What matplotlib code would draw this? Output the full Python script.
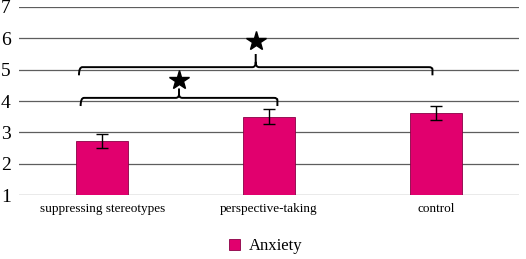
import matplotlib

matplotlib.use("Agg")
import matplotlib.pyplot as plt
from matplotlib.path import Path
from matplotlib.patches import PathPatch

# data
categories = ["suppressing stereotypes", "perspective-taking", "control"]
anxiety = [2.73, 3.50, 3.62]
errors = [0.23, 0.24, 0.22]
y_ticks = [1, 2, 3, 4, 5, 6, 7]

# significance brackets: (x start, x end, y level, star x, tip height, star y)
brackets = [
    (-0.13, 1.05, 4.10, 0.46, 0.30, 4.66),
    (-0.14, 1.98, 5.08, 0.92, 0.42, 5.92),
]

BAR_COLOR = "#E1006E"
SERIF = "Liberation Serif"


def draw_bracket(ax, x0, x1, y, xm, tip, star_y):
    drop = 0.26
    rx = 0.02
    ry = 0.07
    verts = [
        (x0, y - drop), (x0, y), (x0 + rx, y),
        (xm - rx, y), (xm, y), (xm, y + tip * 0.4), (xm, y + tip),
        (xm, y + tip * 0.4), (xm, y), (xm + rx, y),
        (x1 - rx, y), (x1, y), (x1, y - ry), (x1, y - drop),
    ]
    codes = [
        Path.MOVETO, Path.CURVE3, Path.CURVE3,
        Path.LINETO, Path.CURVE3, Path.CURVE3, Path.LINETO,
        Path.MOVETO, Path.CURVE3, Path.CURVE3,
        Path.LINETO, Path.CURVE3, Path.CURVE3, Path.LINETO,
    ]
    ax.add_patch(PathPatch(Path(verts, codes), fill=False, lw=1.4, color="black", zorder=5))
    ax.plot([xm], [star_y], marker="*", markersize=15, color="black", zorder=6, clip_on=False)


fig = plt.figure(figsize=(5.26, 2.59), dpi=100)
ax = fig.add_axes([0.036, 0.247, 0.951, 0.726])

x = range(len(categories))
ax.bar(x, anxiety, width=0.31, bottom=0, color=BAR_COLOR, edgecolor="#8a0045", linewidth=0.6,
       zorder=3, label="Anxiety")
ax.errorbar(x, anxiety, yerr=errors, fmt="none", ecolor="black", elinewidth=1.0, capsize=4,
            capthick=1.0, zorder=4)

for x0, x1, y, xm, tip, star_y in brackets:
    draw_bracket(ax, x0, x1, y, xm, tip, star_y)

ax.set_xlim(-0.5, 2.5)
ax.set_ylim(1, 7)
ax.set_yticks(y_ticks)
ax.set_xticks(list(x), categories)
ax.grid(axis="y", color="#5e5e5e", linewidth=0.9, zorder=0)
ax.set_axisbelow(True)
for side in ["top", "right", "left", "bottom"]:
    ax.spines[side].set_visible(False)
ax.tick_params(axis="both", length=0)
ax.tick_params(axis="y", pad=6)
ax.tick_params(axis="x", pad=6)
for lbl in ax.get_yticklabels():
    lbl.set_fontfamily(SERIF)
    lbl.set_fontsize(14)
for lbl in ax.get_xticklabels():
    lbl.set_fontfamily(SERIF)
    lbl.set_fontsize(9.5)

fig.legend(loc="lower center", bbox_to_anchor=(0.505, -0.04), frameon=False,
           prop={"family": SERIF, "size": 12}, handlelength=0.65, handleheight=0.65,
           handletextpad=0.5)

fig.savefig("out.png", dpi=100)
